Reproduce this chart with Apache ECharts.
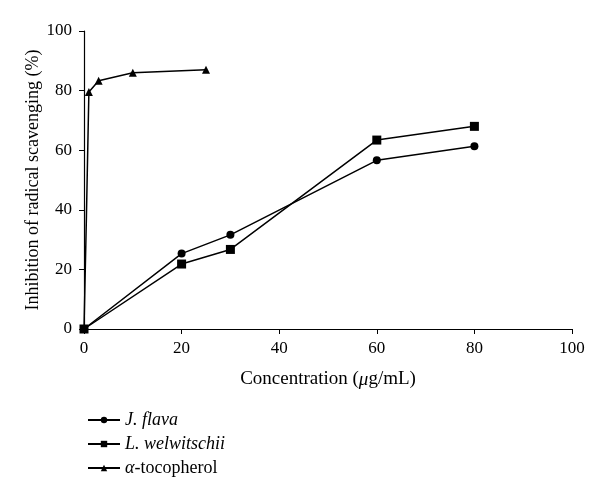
<!DOCTYPE html>
<html><head><meta charset="utf-8">
<script src="https://cdn.jsdelivr.net/npm/echarts@6/dist/echarts.min.js"></script>
<style>html,body{margin:0;padding:0;background:#fff}#c{width:600px;height:499px}</style>
</head><body><div id="c"></div>
<script>
const seriesNames = ['J. flava', 'L. welwitschii', 'α-tocopherol'];
const jflavaX = [0, 20, 30, 60, 80];
const jflavaY = [0, 25.3, 31.6, 56.6, 61.3];
const lwelX = [0, 20, 30, 60, 80];
const lwelY = [0, 21.8, 26.7, 63.4, 68.0];
const tocoX = [0, 0.5, 1, 3, 10, 25];
const tocoY = [0, 38, 79.5, 83.3, 86.0, 87.0];
const tocoNoMarker = [false, true, false, false, false, false];
const xTicks = [0, 20, 40, 60, 80, 100];
const yTicks = [0, 20, 40, 60, 80, 100];

const font = '"Liberation Serif", "DejaVu Serif", serif';
const pair = (xs, ys) => xs.map((x, i) => [x, ys[i]]);
const chart = echarts.init(document.getElementById('c'));
const lineStyle = { color: '#000', width: 1.5 };
const mk = (name, data, symbol, size) => ({
  name, type: 'line', data, symbol, symbolSize: size, showSymbol: true,
  itemStyle: { color: '#000' }, lineStyle, animation: false
});
const tocoData = pair(tocoX, tocoY).map((p, i) => tocoNoMarker[i] ? { value: p, symbol: 'none' } : p);
chart.setOption({
  animation: false,
  grid: { left: 84, right: 28, top: 31, bottom: 170 },
  xAxis: {
    type: 'value', min: 0, max: 100, interval: 20,
    name: 'Concentration ({mu|μ}g/mL)', nameLocation: 'middle', nameGap: 41,
    nameTextStyle: { fontFamily: font, fontSize: 19, color: '#000', rich: { mu: { fontFamily: font, fontStyle: 'italic', fontSize: 19, color: '#000' } } },
    axisLine: { lineStyle: { color: '#000', width: 1.2 } },
    axisTick: { show: true, length: 5, lineStyle: { color: '#000' } },
    axisLabel: { fontFamily: font, fontSize: 17, color: '#000', margin: 11, formatter: v => xTicks.includes(v) ? String(v) : '' },
    splitLine: { show: false }
  },
  yAxis: {
    type: 'value', min: 0, max: 100, interval: 20,
    name: 'Inhibition of radical scavenging (%)', nameLocation: 'middle', nameGap: 42, nameMoveOverlap: false,
    nameTextStyle: { fontFamily: font, fontSize: 18, color: '#000' },
    axisLine: { show: true, lineStyle: { color: '#000', width: 1.2 } },
    axisTick: { show: true, length: 5, lineStyle: { color: '#000' } },
    axisLabel: { fontFamily: font, fontSize: 17, color: '#000', margin: 12, formatter: v => yTicks.includes(v) ? String(v) : '' },
    splitLine: { show: false }
  },
  legend: {
    orient: 'vertical', left: 82, top: 406, itemGap: 6, itemWidth: 32, itemHeight: 8,
    data: seriesNames,
    formatter: n => n === 'α-tocopherol' ? '{a|α}-tocopherol' : '{i|' + n + '}',
    textStyle: { fontFamily: font, fontSize: 18, color: '#000',
      rich: { i: { fontFamily: font, fontStyle: 'italic', fontSize: 18, color: '#000' },
              a: { fontFamily: font, fontStyle: 'italic', fontSize: 18, color: '#000' } } }
  },
  series: [
    mk(seriesNames[0], pair(jflavaX, jflavaY), 'circle', 8),
    mk(seriesNames[1], pair(lwelX, lwelY), 'rect', 9),
    mk(seriesNames[2], tocoData, 'triangle', 8)
  ]
});
</script></body></html>
